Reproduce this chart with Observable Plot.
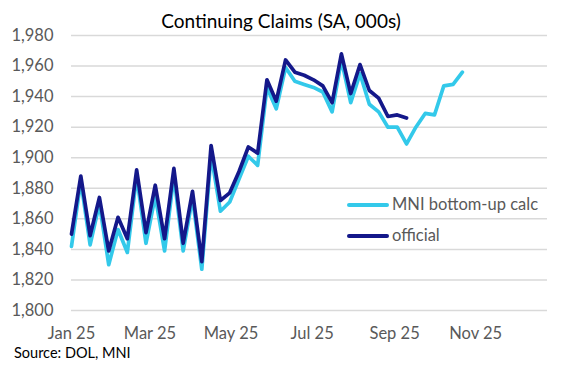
<!DOCTYPE html>
<html><head><meta charset="utf-8">
<script src="https://cdn.jsdelivr.net/npm/d3@7"></script>
<script src="https://cdn.jsdelivr.net/npm/@observablehq/plot@0.6"></script>
<style>
body{margin:0;background:#fff;}
#wrap{position:relative;width:571px;height:365px;font-family:Lato, "Noto Sans", sans-serif;overflow:hidden;}
#chart{position:absolute;left:0;top:0;}
.t{position:absolute;white-space:nowrap;line-height:1;}
#title{top:11px;left:0;width:562px;text-align:center;font-size:19px;color:#000;}
#source{left:14px;top:346px;font-size:14.5px;color:#000;}
.lg{position:absolute;height:4px;border-radius:2px;}
.lgt{font-size:16.5px;color:#595959;}
</style></head>
<body>
<div id="wrap">
  <div id="chart"></div>
  <div class="t" id="title">Continuing Claims (SA, 000s)</div>
  <div class="lg" id="lg1"></div><div class="t lgt" id="lt1"></div>
  <div class="lg" id="lg2"></div><div class="t lgt" id="lt2"></div>
  <div class="t" id="source">Source: DOL, MNI</div>
</div>
<script>
const seriesNames = ["MNI bottom-up calc", "official"];
const seriesColors = ["#33C9EA", "#14188A"];
const firstWeek = "2025-01-04";
const axisEnd = "2025-12-28";
const mniValues = [1842,1885,1843,1870,1830,1853,1838,1888,1844,1875,1839,1888,1839,1874,1827,1902,1865,1871,1886,1901,1895,1946,1932,1959,1950,1948,1946,1943,1930,1964,1936,1955,1935,1930,1920,1920,1909,1920,1929,1928,1947,1948,1956];
const officialValues = [1850,1888,1849,1874,1839,1861,1847,1892,1851,1882,1847,1893,1844,1878,1832,1908,1872,1877,1891,1907,1903,1951,1937,1964,1956,1954,1951,1947,1936,1968,1942,1961,1944,1939,1927,1928,1926];
const xTickDates = ["2025-01-04","2025-03-04","2025-05-04","2025-07-04","2025-09-04","2025-11-04"];
const yTicks = [1800,1820,1840,1860,1880,1900,1920,1940,1960,1980];

const start = new Date(firstWeek);
const toRows = vals => vals.map((v, i) => ({date: d3.utcDay.offset(start, 7 * i), value: v}));
const mniRows = toRows(mniValues);
const offRows = toRows(officialValues);

const chart = Plot.plot({
  width: 571, height: 365,
  marginLeft: 71, marginRight: 24, marginTop: 35, marginBottom: 55,
  style: {fontFamily: "Lato, 'Noto Sans', sans-serif", fontSize: "16.5px", color: "#595959", background: "#fff"},
  x: {type: "utc", domain: [start, new Date(axisEnd)], ticks: xTickDates.map(d => new Date(d)),
      tickFormat: d3.utcFormat("%b %y"), tickSize: 0, tickPadding: 17, label: null},
  y: {domain: [1800, 1980], ticks: yTicks, tickFormat: d3.format(","), tickSize: 0, tickPadding: 18, label: null},
  marks: [
    Plot.gridY(yTicks, {stroke: "#d9d9d9", strokeOpacity: 1, strokeWidth: 1.5}),
    Plot.lineY(mniRows, {x: "date", y: "value", stroke: seriesColors[0], strokeWidth: 3.7, strokeLinejoin: "round"}),
    Plot.lineY(offRows, {x: "date", y: "value", stroke: seriesColors[1], strokeWidth: 3.7, strokeLinejoin: "round"})
  ]
});
document.getElementById("chart").appendChild(chart);

function legend(i, lineTop) {
  const l = document.getElementById("lg" + (i + 1));
  l.style.left = "347px"; l.style.width = "42px"; l.style.top = (lineTop - 2) + "px";
  l.style.background = seriesColors[i];
  const t = document.getElementById("lt" + (i + 1));
  t.textContent = seriesNames[i];
  t.style.left = "392px"; t.style.top = (lineTop - 9) + "px";
}
legend(0, 205);
legend(1, 236);
</script>
</body></html>
